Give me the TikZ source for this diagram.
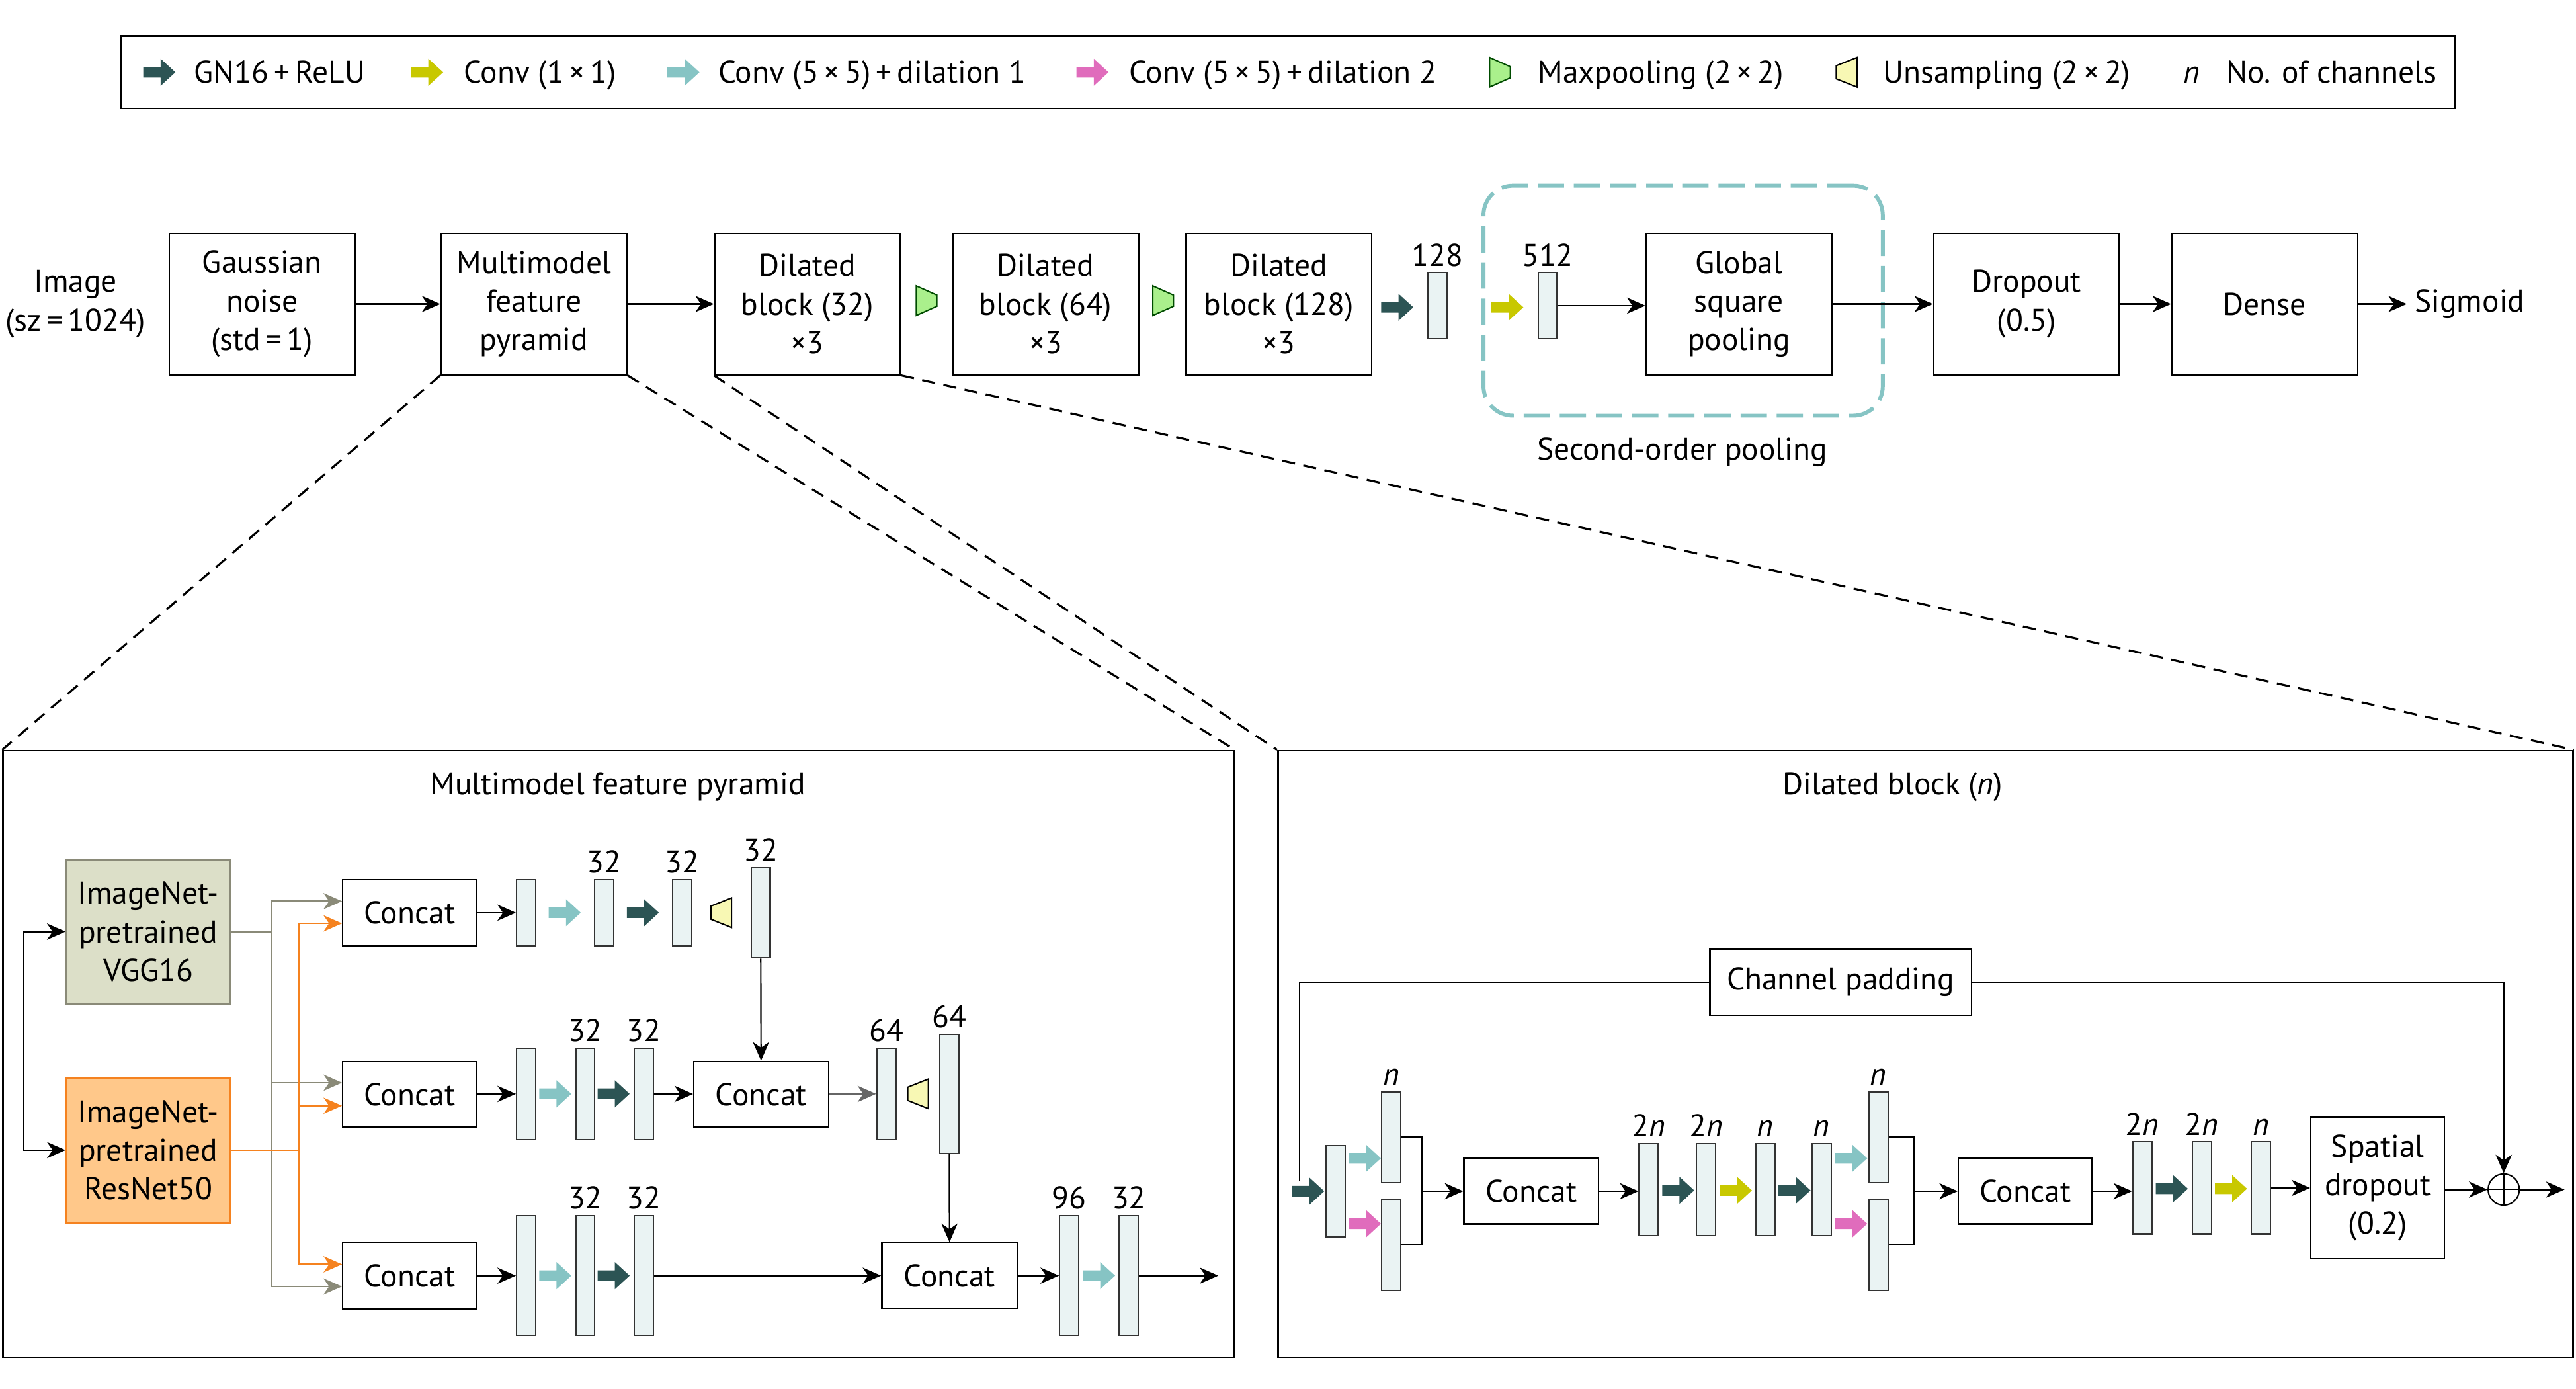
\documentclass[tikz,border=0pt]{standalone}
\usepackage{fontspec}
\setmainfont{PT Sans}
\usetikzlibrary{arrows.meta,positioning,calc}

\definecolor{gnrelu}{HTML}{2C5454}
\definecolor{convone}{HTML}{C8C800}
\definecolor{dilone}{HTML}{86C4C4}
\definecolor{diltwo}{HTML}{E06CBC}
\definecolor{poolgreen}{HTML}{AAF08C}
\definecolor{upyellow}{HTML}{F8F8B4}
\definecolor{barfill}{HTML}{EAF3F3}
\definecolor{vggfill}{HTML}{DCDFC8}
\definecolor{vggedge}{HTML}{8A8A78}
\definecolor{resfill}{HTML}{FFC88A}
\definecolor{resedge}{HTML}{F5821F}

\begin{document}
\begin{tikzpicture}[x=0.025cm, y=-0.025cm, font=\fontsize{13.6}{16.7}\selectfont]
    \tikzset{
        blk/.style={draw, line width=0.65pt, align=center, inner sep=0pt},
        topblk/.style={blk, minimum width=2.825cm, minimum height=2.15cm},
        catblk/.style={blk, minimum width=2.03cm, minimum height=1cm},
        featbar/.style={draw=black!80, fill=barfill, line width=0.6pt, minimum width=0.29cm, inner sep=0pt, minimum height=#1},
        featbar/.default=1cm,
        chlbl/.style={inner sep=1pt, text height=0.7em, text depth=0pt},
        pftip/.tip={Stealth[length=8pt,width=7pt,inset=2.4pt]},
        arr/.style={-pftip, line width=0.62pt},
        vggln/.style={draw=vggedge, line width=0.6pt},
        resln/.style={draw=resedge, line width=0.6pt},
        zoomln/.style={dash pattern=on 0.2cm off 0.13cm, line width=0.9pt},
        pics/fat/.style={code={\fill[#1] (-9.75,-3.25) -- (0.75,-3.25) -- (0.75,-8.25) -- (9.75,0) -- (0.75,8.25) -- (0.75,3.25) -- (-9.75,3.25) -- cycle;}},
        pics/pool/.style={code={\filldraw[fill=poolgreen, draw=black!70!green, line width=0.6pt] (-6.3,-9) -- (6.3,-3.4) -- (6.3,3.4) -- (-6.3,9) -- cycle;}},
        pics/unpool/.style={code={\filldraw[fill=upyellow, draw=black, line width=0.6pt] (6.3,-9) -- (-6.3,-4) -- (-6.3,4) -- (6.3,9) -- cycle;}},
    }
    \useasboundingbox (0,0) rectangle (1568,845);

    % legend
    \node[draw, line width=0.8pt, minimum width=35.5cm, minimum height=1.1cm] (legend) at (784,44) {};
    \pic at (97,44) {fat=gnrelu};
    \node[anchor=base west, inner sep=0pt] (lgA) at (118,50.5) {GN16\,+\,ReLU};
    \pic at (260,44) {fat=convone};
    \node[anchor=base west, inner sep=0pt] (lgB) at (282,50.5) {Conv (1\,×\,1)};
    \pic at (416,44) {fat=dilone};
    \node[anchor=base west, inner sep=0pt] (lgC) at (437,50.5) {Conv (5\,×\,5)\,+\,dilation 1};
    \pic at (665,44) {fat=diltwo};
    \node[anchor=base west, inner sep=0pt] (lgD) at (687,50.5) {Conv (5\,×\,5)\,+\,dilation 2};
    \pic at (913,44) {pool};
    \node[anchor=base west, inner sep=0pt] (lgE) at (936,50.5) {Maxpooling (2\,×\,2)};
    \pic at (1124,44) {unpool};
    \node[anchor=base west, inner sep=0pt] (lgF) at (1146,50.5) {Unsampling (2\,×\,2)};
    \node[anchor=base, inner sep=0pt] (lgG) at (1334,50.5) {\textit{n}};
    \node[anchor=base west, inner sep=0pt] (lgH) at (1355,50.5) {No. of channels};

    % top row
    \node[align=center] (img) at (46,185) {Image\\(sz\,=\,1024)};
    \node[topblk] (gauss) at (159.5,185) {Gaussian\\noise\\(std\,=\,1)};
    \node[topblk] (mfp) at (325,185) {Multimodel\\feature\\pyramid};
    \node[topblk] (dbA) at (491.5,185) {Dilated\\block (32)\\×3};
    \pic at (564,183) {pool};
    \node[topblk] (dbB) at (636.5,185) {Dilated\\block (64)\\×3};
    \pic at (708,183) {pool};
    \node[topblk] (dbC) at (778.5,185) {Dilated\\block (128)\\×3};
    \pic at (850.5,187) {fat=gnrelu};
    \node[featbar] (fA) at (875,186) {};
    \node[chlbl, above=0.05cm of fA] {128};
    \node[draw=dilone, dash pattern=on 0.4cm off 0.15cm, line width=1.7pt, rounded corners=0.45cm,
          minimum width=6.075cm, minimum height=3.5cm] (sop) at (1024.5,183) {};
    \node[anchor=base] (soplbl) at (1024,280) {Second-order pooling};
    \pic at (917.5,187) {fat=convone};
    \node[featbar] (fB) at (942,186) {};
    \node[chlbl, above=0.05cm of fB] {512};
    \node[topblk] (gsp) at (1058.5,185) {Global\\square\\pooling};
    \node[topblk] (drop) at (1233.5,185) {Dropout\\(0.5)};
    \node[topblk] (dense) at (1378.5,185) {Dense};
    \node[anchor=west] (sig) at (1465,185) {Sigmoid};
    \draw[arr] (gauss) -- (mfp);
    \draw[arr] (mfp) -- (dbA);
    \draw[arr] (fB.east) -- (fB.east -| gsp.west);
    \draw[arr] (gsp) -- (drop);
    \draw[arr] (drop) -- (dense);
    \draw[arr] (dense) -- (sig);

    % panels
    \node[draw, line width=0.8pt, minimum width=18.725cm, minimum height=9.225cm] (lpan) at (376.5,641.5) {};
    \node[draw, line width=0.8pt, minimum width=19.7cm, minimum height=9.225cm] (rpan) at (1172,641.5) {};
    \node (lttl) at (376,479) {Multimodel feature pyramid};
    \node (rttl) at (1152,479) {Dilated block (\textit{n})};
    \draw[zoomln] (mfp.south west) -- (lpan.north west);
    \draw[zoomln] (mfp.south east) -- (lpan.north east);
    \draw[zoomln] (dbA.south west) -- (rpan.north west);
    \draw[zoomln] (dbA.south east) -- (rpan.north east);

    % multimodel feature pyramid
    \node[blk, fill=vggfill, draw=vggedge, line width=0.8pt, minimum width=2.49cm, minimum height=2.2cm] (vgg) at (90.25,567) {ImageNet-\\pretrained\\VGG16};
    \node[blk, fill=resfill, draw=resedge, line width=0.8pt, minimum width=2.49cm, minimum height=2.2cm] (res) at (90.25,700) {ImageNet-\\pretrained\\ResNet50};
    \draw[arr, pftip-pftip] (vgg.west) -- ++(-25.5,0) |- (res.west);
    \node[catblk] (lcA) at (249.25,555.5) {Concat};
    \node[catblk] (lcB) at (249.25,666) {Concat};
    \node[catblk] (lcC) at (249.25,776.5) {Concat};
    \coordinate (gv) at (165.4,567);
    \coordinate (ov) at (182,700);
    \draw[vggln] (vgg.east) -- (gv);
    \draw[vggln, arr] (gv) |- ($(lcA.west)+(0,-7)$);
    \draw[vggln, arr] (gv) |- ($(lcB.west)+(0,-7)$);
    \draw[vggln, arr] (gv) |- ($(lcC.west)+(0,6.5)$);
    \draw[resln] (res.east) -- (ov);
    \draw[resln, arr] (ov) |- ($(lcA.west)+(0,6.5)$);
    \draw[resln, arr] (ov) |- ($(lcB.west)+(0,7)$);
    \draw[resln, arr] (ov) |- ($(lcC.west)+(0,-7)$);

    % row 1
    \node[featbar] (a1) at (320.25,555.5) {};
    \pic at (343.75,555.5) {fat=dilone};
    \node[featbar] (a2) at (367.8,555.5) {};
    \pic at (391.3,555.5) {fat=gnrelu};
    \node[featbar] (a3) at (415.3,555.5) {};
    \pic at (439,555.5) {unpool};
    \node[featbar=1.375cm] (a4) at (463,555.5) {};
    \node[chlbl, above=0.05cm of a2] {32};
    \node[chlbl, above=0.05cm of a3] {32};
    \node[chlbl, above=0.05cm of a4] {32};
    \draw[arr] (lcA) -- (a1);

    % row 2
    \node[featbar=1.39cm] (b1) at (320.25,665.75) {};
    \pic at (338,665.75) {fat=dilone};
    \node[featbar=1.39cm] (b2) at (356.25,665.75) {};
    \pic at (373.5,665.75) {fat=gnrelu};
    \node[featbar=1.39cm] (b3) at (391.75,665.75) {};
    \node[chlbl, above=0.05cm of b2] {32};
    \node[chlbl, above=0.05cm of b3] {32};
    \node[catblk, minimum width=2.05cm] (lcM) at (463.3,666) {Concat};
    \node[featbar=1.39cm] (m1) at (539.5,665.75) {};
    \pic at (558.8,665.75) {unpool};
    \node[featbar=1.81cm] (m2) at (577.75,665.75) {};
    \node[chlbl, above=0.05cm of m1] {64};
    \node[chlbl, above=0.05cm of m2] {64};
    \draw[arr] (lcB) -- (b1);
    \draw[arr] (b3) -- (lcM);
    \draw[arr] (a4) -- (lcM);
    \draw[arr, draw=black!60] (lcM) -- (m1);

    % row 3
    \node[featbar=1.82cm] (c1) at (320.25,776.4) {};
    \pic at (338,776.4) {fat=dilone};
    \node[featbar=1.82cm] (c2) at (356.25,776.4) {};
    \pic at (373.5,776.4) {fat=gnrelu};
    \node[featbar=1.82cm] (c3) at (391.75,776.4) {};
    \node[chlbl, above=0.05cm of c2] {32};
    \node[chlbl, above=0.05cm of c3] {32};
    \node[catblk, minimum width=2.06cm] (lcD) at (578,776.4) {Concat};
    \node[featbar=1.82cm] (d1) at (650.8,776.4) {};
    \pic at (669,776.4) {fat=dilone};
    \node[featbar=1.82cm] (d2) at (687.15,776.4) {};
    \node[chlbl, above=0.05cm of d1] {96};
    \node[chlbl, above=0.05cm of d2] {32};
    \coordinate (lout) at (741.6,776.4);
    \draw[arr] (lcC) -- (c1);
    \draw[arr] (c3) -- (lcD);
    \draw[arr] (m2) -- (lcD);
    \draw[arr] (lcD) -- (d1);
    \draw[arr] (d2) -- (lout);

    % dilated block
    \node[blk, minimum width=3.98cm, minimum height=1cm] (chpad) at (1120.4,597.8) {Channel padding};
    \coordinate (skipin) at (791,719);
    \pic at (796.3,725) {fat=gnrelu};
    \node[featbar=1.385cm] (rA) at (813,725) {};
    \pic at (830.8,705) {fat=dilone};
    \pic at (830.8,744.8) {fat=diltwo};
    \node[featbar=1.38cm] (rB1) at (846.8,692.1) {};
    \node[featbar=1.39cm] (rB2) at (846.8,757.7) {};
    \node[chlbl, above=0.05cm of rB1] {\textit{n}};
    \coordinate (jA) at (865.6,725);
    \node[catblk, minimum width=2.05cm] (rcA) at (932.1,725) {Concat};
    \node[featbar=1.4cm] (rC1) at (1003.5,724) {};
    \pic at (1021.5,724.5) {fat=gnrelu};
    \node[featbar=1.4cm] (rC2) at (1038.4,724) {};
    \pic at (1056.6,724.5) {fat=convone};
    \node[featbar=1.4cm] (rC3) at (1074.6,724) {};
    \pic at (1092.3,724.5) {fat=gnrelu};
    \node[featbar=1.4cm] (rC4) at (1108.8,724) {};
    \node[chlbl, above=0.05cm of rC1] {2\textit{n}};
    \node[chlbl, above=0.05cm of rC2] {2\textit{n}};
    \node[chlbl, above=0.05cm of rC3] {\textit{n}};
    \node[chlbl, above=0.05cm of rC4] {\textit{n}};
    \pic at (1126.8,705) {fat=dilone};
    \pic at (1126.8,744.8) {fat=diltwo};
    \node[featbar=1.38cm] (rD1) at (1143.4,692.1) {};
    \node[featbar=1.39cm] (rD2) at (1143.4,757.7) {};
    \node[chlbl, above=0.05cm of rD1] {\textit{n}};
    \coordinate (jB) at (1165,725);
    \node[catblk, minimum width=2.03cm] (rcB) at (1232.7,725) {Concat};
    \node[featbar=1.4cm] (rE1) at (1304,723) {};
    \pic at (1322,723.5) {fat=gnrelu};
    \node[featbar=1.4cm] (rE2) at (1340.2,723) {};
    \pic at (1358,723.5) {fat=convone};
    \node[featbar=1.4cm] (rE3) at (1376.2,723) {};
    \node[chlbl, above=0.05cm of rE1] {2\textit{n}};
    \node[chlbl, above=0.05cm of rE2] {2\textit{n}};
    \node[chlbl, above=0.05cm of rE3] {\textit{n}};
    \node[blk, minimum width=2.035cm, minimum height=2.15cm] (sdrop) at (1447.3,723) {Spatial\\dropout\\(0.2)};
    \node[circle, draw, line width=0.6pt, minimum size=0.475cm, inner sep=0pt,
          path picture={\draw[line width=0.5pt] (path picture bounding box.north) -- (path picture bounding box.south)
                        (path picture bounding box.west) -- (path picture bounding box.east);}] (plus) at (1524,724) {};
    \coordinate (rout) at (1561,724);
    \draw[line width=0.6pt] (rB1.east) -| (jA) |- (rB2.east);
    \draw[arr] (jA) -- (rcA);
    \draw[arr] (rcA) -- (rC1.west |- rcA);
    \draw[line width=0.6pt] (rD1.east) -| (jB) |- (rD2.east);
    \draw[arr] (jB) -- (rcB);
    \draw[arr] (rcB.east) -- (rcB.east -| rE1.west);
    \draw[arr] (rE3.east) -- (rE3.east -| sdrop.west);
    \draw[arr] (sdrop.east |- plus) -- (plus);
    \draw[arr] (plus) -- (rout);
    \draw[line width=0.6pt] (skipin) |- (chpad.west);
    \draw[arr] (chpad.east) -| (plus.north);
\end{tikzpicture}
\end{document}
